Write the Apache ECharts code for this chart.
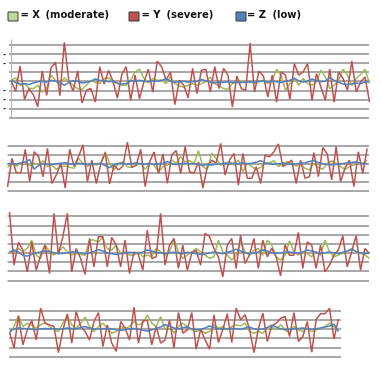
<!DOCTYPE html>
<html>
<head>
<meta charset="utf-8">
<script src="https://cdn.jsdelivr.net/npm/echarts@6/dist/echarts.min.js"></script>
<style>
html,body{margin:0;padding:0;background:#fff;}
#chart{width:381px;height:367px;}
</style>
</head>
<body>
<div id="chart"></div>
<script>
// ---- data (one array per series per strip) ----
const seriesNames = ['X', 'Y', 'Z'];
const seriesLabels = ['(moderate)', '(severe)', '(low)'];
const p1TickMarks = [3, 2, -1, -2, -3];

const p1Green = [0.1,0.37,-0.44,-0.26,-0.74,-0.81,-0.44,-1.19,-0.74,0.67,0.1,-0.44,0.37,-0.07,-0.44,-0.81,-0.9,-0.44,0.1,-0.15,-0.26,0.3,0.37,0,-0.26,-0.44,-0.44,
 0.1,1.04,1.33,0.3,-0.15,0.3,0.1,0.1,-0.26,0.48,-0.26,-0.52,-0.63,-0.44,-0.26,-0.44,-0.26,-0.07,0.48,-0.26,-0.52,-0.81,-0.9,-0.26,-0.07,0,-0.07,
 -0.07,-0.26,-0.07,0.1,-0.26,0.1,1.33,0.67,-1.0,-0.26,0.3,-0.44,0.3,-0.26,-0.44,-0.07,1.22,0.48,-0.81,-0.44,0.1,1.33,0.67,-0.44,0.3,0.74,1.33,-0.26];
const p1Red = [0,-1.1,1.7,-2.0,-0.8,-1.5,-2.8,1.15,-1.55,1.5,2.1,-1.6,4.3,0.1,-1.1,1.15,-2.4,-1.0,-0.8,-2.3,1.6,-0.3,1.2,0,-1.85,0.75,1.6,
 -2.1,0.67,-1.93,-0.07,1.33,-1.19,2.22,1.6,0.1,1.04,-2.59,0.1,-0.44,-1.85,1.41,-1.37,1.22,1.33,-1.19,1.6,-0.81,1.41,0.67,-2.85,0.59,-0.81,-1.0,
 4.2,-1.19,1.11,0.59,-1.74,0.67,-2.3,1.04,0.67,-2.0,1.96,0.67,1.04,1.96,-2.11,0.85,-0.63,-2.11,1.33,-2.3,1.04,0.3,-1.0,2.22,-1.19,-0.07,0.48,-2.3];
const p1Blue = [0.1,-0.15,-0.3,-0.25,-0.35,-0.2,-0.05,0.0,-0.1,0.1,0.0,-0.15,-0.45,-0.15,0.05,0.0,-0.2,-0.1,0.0,0.25,0.1,0.05,-0.05,0.0,-0.2,-0.3,-0.25,
 0.05,0.0,0.1,0.0,-0.05,0.05,0.0,0.1,0.3,0.0,-0.1,-0.05,0.0,-0.1,-0.05,0.0,0.2,0.05,-0.1,-0.2,-0.1,-0.15,-0.05,-0.15,-0.1,-0.15,-0.1,
 -0.05,-0.1,0.0,0.05,-0.1,0.0,-0.05,-0.15,0.0,0.1,0.35,0.05,-0.1,0.0,0.25,0.05,-0.05,0.0,0.4,0.1,-0.1,-0.3,-0.35,-0.3,-0.2,-0.25,-0.1,0.0];

const p2Green = [-0.41,0.04,-0.26,0.04,0.22,-0.26,0.04,-0.15,0.33,-0.33,-0.15,-0.63,-0.33,-0.26,-0.41,-0.52,0.59,0.04,-0.33,0.04,-0.15,0.04,1.33,0.04,-0.7,0.04,0.22,-0.33,-0.41,-0.15,0.04,-0.63,0.04,-0.15,-0.89,-0.33,-0.15,0.41,0.04,0.78,0.22,0.33,
 0.04,1.44,-0.33,-0.63,1.15,0.59,-0.15,0.04,0.22,-0.15,0.41,-0.89,0.04,-0.33,-0.63,-0.41,0.04,0.11,0.33,-0.33,0.04,0.22,0.04,-0.26,-0.07,-0.52,-0.7,0.04,-0.41,-0.63,0.04,0.33,0.04,-0.33,-0.63,-0.33,-0.15,0.11,0.04,0.41];
const p2Red = [-2.6,0.6,-1.0,-1.0,1.6,-2.0,1.33,0.8,-1.45,1.7,-2.2,-1.25,0.04,-2.7,1.6,-0.3,0.8,2.1,-2.0,0.4,-2.2,0.0,1.2,-2.25,-0.15,-0.7,-0.25,2.4,-0.4,-0.15,1.6,-2.55,0.2,1.3,-1.1,1.1,-2.2,1.0,1.45,-1.1,1.9,-0.9,
 -1.07,0.2,-2.7,-0.33,0.4,0.1,2.26,-1.26,0.4,1.15,-2.37,1.15,-1.63,-1.63,-0.33,-2.2,0.96,0.78,1.33,2.2,-0.33,0.04,0.4,-2.2,0.4,-1.63,-1.44,1.22,-1.44,1.8,1.07,-1.8,1.9,-2.0,-0.5,0.4,-2.55,1.33,-1.07,1.7];
const p2Blue = [0.0,0.05,-0.05,0.1,0.2,0.45,-0.6,-0.2,0.0,-0.05,-0.1,0.0,0.05,0.1,0.0,-0.05,0.05,0.0,-0.1,-0.05,0.0,0.05,-0.2,-0.45,-0.1,0.0,0.05,-0.05,0.0,0.1,0.0,-0.05,0.05,-0.1,0.0,0.05,0.25,0.0,-0.1,0.0,0.05,0.0,
 0.0,-0.1,-0.2,-0.1,-0.15,-0.05,0.0,0.05,0.0,0.05,0.0,0.1,0.0,0.05,0.15,0.35,0.1,0.0,-0.05,0.0,0.05,0.0,-0.05,0.0,0.05,0.1,0.25,0.35,0.15,0.0,-0.1,-0.15,-0.1,0.0,0.05,0.1,0.2,0.15,0.0,0.05];

const p3Green = [0.11,0.11,0.47,0.11,0.47,1.38,-0.26,-0.62,0.84,0.11,-0.26,0.11,0.66,0.11,-0.26,-0.07,-0.18,-0.26,1.38,1.38,1.2,1.64,0.47,0.29,0.84,-0.07,0.11,-0.26,-0.26,0.11,-0.44,-0.26,-0.44,0.47,0.11,-0.26,0.11,1.49,0.11,-0.62,-0.26,
 0.11,0.47,0.11,-0.26,-0.62,-0.44,1.38,0.11,-0.26,-0.8,-0.26,1.2,0.11,-0.26,0.29,0.47,-0.26,1.38,0.84,-0.44,-0.8,-0.26,1.28,0.11,-0.26,0.11,-0.07,-0.44,0.11,-0.26,1.38,0.11,-0.44,-0.26,-0.07,0.11,0.47,0.11,-0.07,-0.26,-0.62];
const p3Red = [4.45,-1.35,1.13,0.29,-2.08,1.2,-1.9,-0.26,0.84,-2.26,4.3,-0.18,1.75,4.3,-2.08,0.47,-0.62,-2.37,1.57,-1.53,1.75,1.75,-1.53,1.68,0.84,-1.53,1.38,-2.26,0.1,-0.18,-1.9,2.48,-0.62,-0.44,4.3,-1.35,0.84,1.57,-1.71,0.84,-1.9,
 -0.07,0.29,-1.35,2.11,1.75,0.47,-0.44,-2.62,0.84,1.57,-1.71,1.93,-1.17,-0.26,1.57,-1.71,1.38,-0.44,0.47,-0.44,-2.51,0.84,-0.26,-0.26,2.22,-1.71,1.2,0.84,-1.71,0.84,-2.08,-1.35,-0.26,0.29,1.86,-1.53,0.11,1.86,-1.9,0.47,-0.07];
const p3Blue = [0.1,0.3,0.1,-0.3,-0.35,-0.2,0.0,0.1,0.2,0.15,0.0,-0.1,-0.05,0.0,0.1,0.05,0.0,-0.1,0.0,0.15,0.35,0.2,0.0,-0.1,-0.2,-0.1,0.0,0.05,0.0,-0.05,0.1,0.3,0.2,0.05,0.0,-0.1,0.0,0.05,0.0,-0.1,0.05,
 0.0,-0.1,-0.2,-0.15,0.0,0.1,0.0,-0.1,0.05,0.2,0.4,0.2,0.0,-0.1,0.0,0.1,0.3,0.2,0.0,-0.05,0.0,0.05,0.1,0.0,-0.05,0.1,0.3,0.2,0.05,-0.05,0.0,0.1,0.0,-0.1,0.05,0.2,0.35,0.15,0.0,-0.1,0.0];

const p4Green = [-0.47,0.25,1.4,0.25,0.61,0.43,0.07,0.43,0.68,0.25,-0.11,-0.29,0.61,1.4,0.43,0.07,0.61,1.26,0.25,-0.29,0.25,0.61,0.07,-0.47,-0.29,0.25,0.07,0.25,0.79,0.43,0.61,1.51,0.61,0.25,1.33,-0.11,0.43,-0.47,0.25,0.61,0.25,
 -0.11,-0.29,-0.11,-0.47,-0.29,0.43,0.07,0.25,-0.11,0.25,0.43,0.32,0.61,-0.29,-0.47,-0.29,-0.47,0.07,0.25,-0.11,0.43,-0.11,-0.47,0.25,-0.11,-0.29,0.07,-0.29,-0.11,0.07,0.25,0.61,0.25,-0.11];
const p4Red = [-0.4,-2.08,1.4,-1.72,-0.11,0.9,-1.19,2.23,0.61,0.43,0.25,-2.55,-0.11,1.62,-1.54,1.87,0.25,-0.29,-1.19,0.79,1.76,-1.9,0.43,-1.54,-2.44,0.79,0.07,-1.19,2.33,-1.54,0.9,0.9,-1.72,0.25,-1.54,-1.19,0.97,-2.08,1.76,-0.47,-0.11,
 1.76,-2.19,-0.04,-1.19,-2.19,1.51,-1.47,-0.04,1.62,-1.47,2.23,0.97,1.51,-0.04,-2.55,0.07,1.69,-1.36,0.32,0.61,1.15,1.33,-0.83,1.76,-1.36,-0.83,0.79,-2.51,1.04,1.62,1.62,2.23,-1.11,1.04];
const p4Blue = [-0.3,0.0,0.1,0.05,0.0,-0.05,-0.1,0.0,0.05,0.0,0.05,-0.05,0.0,0.1,0.05,0.0,0.15,0.25,0.1,0.0,-0.05,0.0,0.05,0.0,-0.1,-0.15,-0.1,0.0,0.05,-0.05,-0.15,-0.25,-0.1,0.05,0.2,0.45,0.3,0.1,0.0,0.15,0.2,
 0.0,-0.1,-0.05,0.1,0.3,0.15,0.0,-0.05,0.0,0.05,0.0,-0.05,0.1,0.2,0.0,-0.1,0.0,0.15,0.4,0.2,0.0,-0.1,-0.05,0.0,0.05,0.1,0.0,-0.05,0.0,0.1,0.2,0.3,0.5,-0.3];

// ---- layout / style ----
const colors = ['#9bbb59', '#c0504d', '#4f81bd'];
const legendFill = ['#c3d69b', '#c0504d', '#4f81bd'];
const strips = [
  {data: [p1Green, p1Red, p1Blue], grid: {left: 7.5, top: 40, width: 361.5, height: 77.5}, x: [-0.51, 80.88], y: [-4, 4.55], axisLine: true},
  {data: [p2Green, p2Red, p2Blue], grid: {left: 7.5, top: 136.7, width: 361.5, height: 54}, x: [0, 81.4], y: [-3, 3], axisLine: false},
  {data: [p3Green, p3Red, p3Blue], grid: {left: 7.5, top: 211.5, width: 361.5, height: 68.8}, x: [-0.46, 80.9], y: [-3, 4.5], axisLine: false},
  {data: [p4Green, p4Red, p4Blue], grid: {left: 9, top: 301, width: 332, height: 55.7}, x: [-0.13, 74.58], y: [-3, 3], axisLine: false}
];

const grids = [], xAxes = [], yAxes = [], series = [];
strips.forEach((s, i) => {
  grids.push(Object.assign({containLabel: false}, s.grid));
  xAxes.push({type: 'value', gridIndex: i, min: s.x[0], max: s.x[1], show: false});
  yAxes.push({
    type: 'value', gridIndex: i, min: s.y[0], max: s.y[1], interval: 1,
    axisLine: {show: s.axisLine, lineStyle: {color: '#b0b0b0', width: 1}},
    axisTick: {show: false},
    axisLabel: {
      show: i === 0, margin: 3, color: '#222', fontSize: 9, fontWeight: 'bold',
      showMaxLabel: false,
      formatter: v => (p1TickMarks.indexOf(v) >= 0 ? '-' : '')
    },
    splitLine: {show: true, showMaxLine: false, lineStyle: {color: '#8c8c8c', width: 1.5}}
  });
  s.data.forEach((arr, j) => {
    series.push({
      type: 'line', name: seriesNames[j], xAxisIndex: i, yAxisIndex: i,
      data: arr.map((v, k) => [k, v]),
      showSymbol: false, symbol: 'none', clip: true,
      lineStyle: {color: colors[j], width: 1.5},
      z: 2 + j, animation: false
    });
  });
});

// legend drawn as graphic (box + two text pieces per item)
const legendBoxX = [7.5, 128.5, 235.5];
const legendEqX = [20.5, 141.5, 247];
const legendLabelX = [45.5, 166.5, 272.5];
const graphic = [];
seriesNames.forEach((n, j) => {
  graphic.push({type: 'rect', left: legendBoxX[j], top: 11.5, shape: {width: 10, height: 9},
    style: {fill: legendFill[j], stroke: '#3a3a3a', lineWidth: 1}});
  graphic.push({type: 'text', left: legendEqX[j], top: 10.5,
    style: {text: '= ' + n, font: 'bold 10px "DejaVu Sans"', fill: '#111'}});
  graphic.push({type: 'text', left: legendLabelX[j], top: 10.5,
    style: {text: seriesLabels[j], font: 'bold 10px "DejaVu Sans"', fill: '#111'}});
});

const chart = echarts.init(document.getElementById('chart'), null, {renderer: 'canvas'});
chart.setOption({
  animation: false,
  backgroundColor: '#ffffff',
  grid: grids, xAxis: xAxes, yAxis: yAxes, series: series, graphic: graphic
});
</script>
</body>
</html>
